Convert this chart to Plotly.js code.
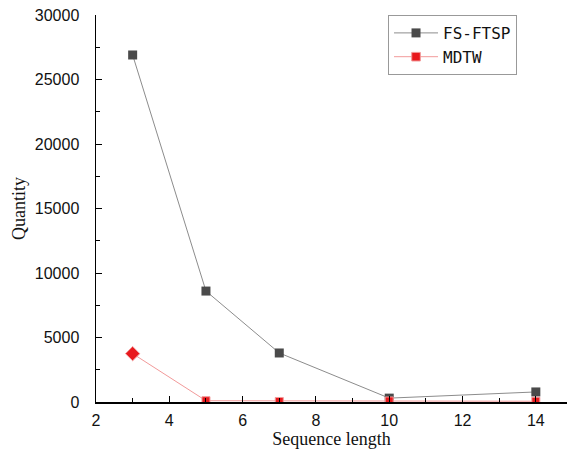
<!DOCTYPE html>
<html><head><meta charset="utf-8">
<script src="https://cdn.plot.ly/plotly-3.0.1.min.js"></script>
<style>html,body{margin:0;padding:0;background:#fff}#c{width:568px;height:450px}</style>
</head><body><div id="c"></div>
<script>
var seqLength = [3, 5, 7, 10, 14];
var fsftsp = [26900, 8600, 3800, 300, 780];
var mdtw = [3750, 100, 40, 80, 60];
var seriesNames = ['FS-FTSP', 'MDTW'];
var mdtwSymbols = ['diamond', 'square', 'square', 'square', 'square'];
var mdtwSizes = [11, 8, 8, 8, 8];

function rev(a) { return a.slice().reverse(); }

var traces = [
  {x: seqLength, y: fsftsp, name: seriesNames[0], mode: 'lines+markers',
   line: {color: '#8c8c8c', width: 1}, marker: {symbol: 'square', size: 9, color: '#4a4a4a'}},
  {x: rev(seqLength), y: rev(mdtw), name: seriesNames[1], mode: 'lines+markers',
   line: {color: '#f29a9a', width: 1},
   marker: {symbol: rev(mdtwSymbols), size: rev(mdtwSizes), color: '#e8191d', opacity: 1}}
];
var layout = {
  width: 568, height: 450,
  margin: {l: 96, r: 1, t: 15, b: 48},
  paper_bgcolor: '#fff', plot_bgcolor: '#fff',
  showlegend: true,
  legend: {x: 0.62, y: 1, xanchor: 'left', yanchor: 'top', bordercolor: '#999', borderwidth: 1,
    font: {family: 'DejaVu Sans Mono', size: 16, color: '#111'}, bgcolor: '#fff',
    itemwidth: 44, tracegroupgap: 2},
  xaxis: {range: [2, 14.85], dtick: 2, tick0: 2, showgrid: false, zeroline: false,
    showline: true, linecolor: '#000', linewidth: 1.5, ticks: 'inside', ticklen: 6, tickcolor: '#000',
    minor: {ticks: 'inside', ticklen: 4, dtick: 1, tickcolor: '#000'},
    ticklabelstandoff: 3,
    tickfont: {family: 'Liberation Sans, Arial', size: 16, color: '#111'},
    title: {text: 'Sequence length', font: {family: 'Liberation Serif, Times New Roman', size: 18, color: '#111'}, standoff: 4}},
  yaxis: {range: [0, 30000], dtick: 5000, tickformat: 'd', showgrid: false, zeroline: false,
    showline: true, linecolor: '#000', linewidth: 1.5, ticks: 'inside', ticklen: 6, tickcolor: '#000',
    minor: {ticks: 'inside', ticklen: 4, dtick: 2500, tickcolor: '#000'},
    ticklabelstandoff: 12,
    tickfont: {family: 'Liberation Sans, Arial', size: 16, color: '#111'},
    title: {text: 'Quantity', font: {family: 'Liberation Serif, Times New Roman', size: 18, color: '#111'}, standoff: 4}}
};
Plotly.newPlot('c', traces, layout, {displayModeBar: false, staticPlot: true});
</script></body></html>
